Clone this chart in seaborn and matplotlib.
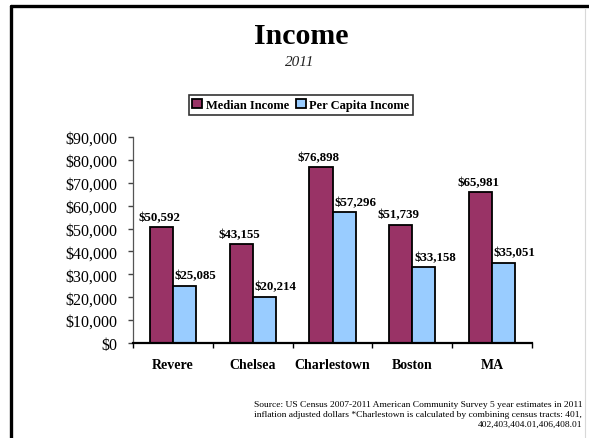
import matplotlib
matplotlib.use("Agg")
import matplotlib.pyplot as plt
from matplotlib.lines import Line2D
from matplotlib.ticker import FuncFormatter, FixedLocator
import pandas as pd
import seaborn as sns

# Income by area, 2011 (ACS 5-year estimates, inflation adjusted)
areas = ["Revere", "Chelsea", "Charlestown", "Boston", "MA"]
median_income = [50592, 43155, 76898, 51739, 65981]
per_capita_income = [25085, 20214, 57296, 33158, 35051]
series_names = ["Median Income", "Per Capita Income"]
series_colors = ["#993366", "#99CCFF"]
y_ticks = [0, 10000, 20000, 30000, 40000, 50000, 60000, 70000, 80000, 90000]

df = pd.DataFrame({
    "Area": areas * 2,
    "Measure": [series_names[0]] * len(areas) + [series_names[1]] * len(areas),
    "Income": median_income + per_capita_income,
})

sns.set_theme(style="white")
plt.rcParams["font.family"] = ["Liberation Serif", "DejaVu Serif"]
plt.rcParams["text.color"] = "black"
plt.rcParams["xtick.color"] = "black"
plt.rcParams["ytick.color"] = "black"
plt.rcParams["axes.labelcolor"] = "black"

fig = plt.figure(figsize=(5.89, 4.39), dpi=100)
fig.patch.set_facecolor("white")
ax = fig.add_axes([133 / 589, 1 - 344 / 439, (532 - 133) / 589, (344 - 138) / 439])

sns.barplot(
    data=df, x="Area", y="Income", hue="Measure", order=areas,
    hue_order=series_names, palette=series_colors, width=0.58,
    edgecolor="black", linewidth=1.3, saturation=1, ax=ax, legend=True,
)

# value labels above each bar; the per-capita labels sit a little to the right
label_shift = [-1.5, 8.0]
for cont, dx in zip(ax.containers, label_shift):
    anns = ax.bar_label(cont, fmt="${:,.0f}", padding=3, fontsize=9.3,
                        fontweight="bold", color="black")
    for ann in anns:
        ann.xyann = (dx, 3)

ax.set_ylim(0, 90000)
ax.set_xlim(-0.5, len(areas) - 0.5)
ax.set_yticks(y_ticks)
ax.yaxis.set_major_formatter(FuncFormatter(lambda v, p: f"${v:,.0f}"))
ax.tick_params(axis="y", which="major", direction="out", length=3.6, width=1,
               color="#444444", labelcolor="black", labelsize=11.5, pad=7.5, left=True)
ax.tick_params(axis="x", which="major", length=0, pad=11, labelsize=10,
               labelcolor="black")
for lbl in ax.get_xticklabels():
    lbl.set_fontweight("bold")
ax.xaxis.set_minor_locator(FixedLocator([i - 0.5 for i in range(len(areas) + 1)]))
ax.tick_params(axis="x", which="minor", direction="out", length=3.6, width=1,
               color="black", bottom=True)
ax.set_xlabel("")
ax.set_ylabel("")

for side in ["top", "right"]:
    ax.spines[side].set_visible(False)
ax.spines["left"].set_color("#555555")
ax.spines["left"].set_linewidth(0.9)
ax.spines["bottom"].set_color("black")
ax.spines["bottom"].set_linewidth(1.6)

# legend across the top
handles = ax.get_legend_handles_labels()
ax.get_legend().remove()
leg = fig.legend(
    handles[0], handles[1], loc="center", bbox_to_anchor=(301 / 589, 1 - 106 / 439),
    ncol=2, frameon=True, fancybox=False, edgecolor="black",
    prop={"family": "Liberation Serif", "weight": "bold", "size": 9},
    handlelength=0.75, handleheight=0.75, handletextpad=0.3, columnspacing=0.6,
    borderpad=0.3, borderaxespad=0, labelcolor="black",
)
leg.get_frame().set_linewidth(1.2)

# titles
fig.text(301 / 589, 1 - 36 / 439, "Income", ha="center", va="center",
         fontsize=21.5, fontweight="bold", color="black")
fig.text(300 / 589, 1 - 62 / 439, "2011", ha="center", va="center",
         fontsize=11, fontstyle="italic", color="#222222")

# source note, right-aligned under the chart
note_lines = [
    "Source: US Census 2007-2011 American Community Survey 5 year estimates in 2011",
    "inflation adjusted dollars *Charlestown is calculated by combining census tracts: 401,",
    "402,403,404.01,406,408.01",
]
for i, line in enumerate(note_lines):
    fig.text(582 / 589, 1 - (405 + 10 * i) / 439, line,
             ha="right", va="center", fontsize=6.8, color="black")

# page frame
fig.add_artist(Line2D([11 / 589, 1], [1 - 7 / 439, 1 - 7 / 439], color="black",
                      linewidth=2.4, transform=fig.transFigure))
fig.add_artist(Line2D([11 / 589, 11 / 589], [0, 1 - 7 / 439], color="black",
                      linewidth=2.4, transform=fig.transFigure))
fig.add_artist(Line2D([585 / 589, 585 / 589], [0, 1 - 9 / 439], color="#d8d8d8",
                      linewidth=0.8, transform=fig.transFigure))

fig.savefig("out.png", dpi=100, facecolor="white")
